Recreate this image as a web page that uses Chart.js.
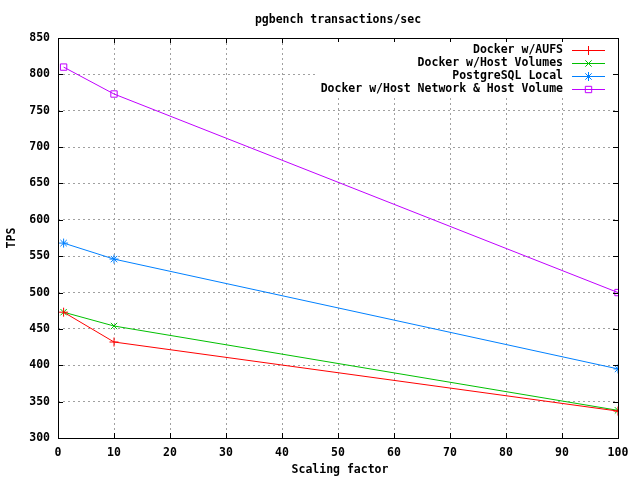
<!DOCTYPE html>
<html>
<head>
<meta charset="utf-8">
<script src="https://cdn.jsdelivr.net/npm/chart.js@4.4.1/dist/chart.umd.min.js"></script>
<style>
  body { margin: 0; background: #fff; }
  #wrap { width: 640px; height: 480px; }
</style>
</head>
<body>
<div id="wrap"><canvas id="myChart" width="640" height="480"></canvas></div>
<script>
// valores
const scalingFactors = [1, 10, 100];
const aufs = [473, 432, 337];
const hostVolumes = [473, 454, 338];
const pgLocal = [568, 546, 395];
const hostNetwork = [810, 773, 500];

const seriesNames = [
  'Docker w/AUFS',
  'Docker w/Host Volumes',
  'PostgreSQL Local',
  'Docker w/Host Network & Host Volume',
];
const seriesColors = ['#ff0000', '#00c000', '#0080ff', '#c000ff'];
const seriesMarkers = ['cross', 'crossRot', 'star', 'rect'];
const xTicks = [0, 10, 20, 30, 40, 50, 60, 70, 80, 90, 100];
const yTicks = [300, 350, 400, 450, 500, 550, 600, 650, 700, 750, 800, 850];

const FONT = 'bold 11.5px "DejaVu Sans Mono", monospace';

function toPoints(values) {
  return values.map((v, i) => ({x: scalingFactors[i], y: v}));
}

function makeSet(i, values) {
  const color = seriesColors[i];
  return {
    label: seriesNames[i],
    data: toPoints(values),
    borderColor: color,
    backgroundColor: 'rgba(0,0,0,0)',
    borderWidth: 1,
    pointStyle: seriesMarkers[i],
    pointRadius: 4.5,
    pointBorderWidth: 1,
    pointBorderColor: color,
    pointBackgroundColor: 'rgba(0,0,0,0)',
    tension: 0,
  };
}

// bordes, ticks, titulos y leyenda estilo gnuplot
const gnuplotFrame = {
  id: 'gnuplotFrame',
  afterDatasetsDraw(chart) {
    const c = chart.ctx;
    const a = chart.chartArea;
    const xs = chart.scales.x;
    const ys = chart.scales.y;
    c.save();
    c.strokeStyle = '#000';
    c.lineWidth = 1;
    c.beginPath();
    xTicks.forEach(t => {
      const px = Math.round(xs.getPixelForValue(t)) + 0.5;
      c.moveTo(px, a.bottom); c.lineTo(px, a.bottom - 5);
      c.moveTo(px, a.top); c.lineTo(px, a.top + 5);
    });
    yTicks.forEach(t => {
      const py = Math.round(ys.getPixelForValue(t)) + 0.5;
      c.moveTo(a.left, py); c.lineTo(a.left + 5, py);
      c.moveTo(a.right, py); c.lineTo(a.right - 5, py);
    });
    c.stroke();
    c.strokeRect(Math.round(a.left) + 0.5, Math.round(a.top) + 0.5,
      Math.round(a.right - a.left), Math.round(a.bottom - a.top));

    c.fillStyle = '#000';
    c.font = FONT;
    c.textAlign = 'center';
    c.textBaseline = 'middle';
    c.fillText('pgbench transactions/sec', 338, 20);
    c.fillText('Scaling factor', 340, 470);
    c.save();
    c.translate(12, 238);
    c.rotate(-Math.PI / 2);
    c.fillText('TPS', 0, 0);
    c.restore();

    // leyenda
    c.fillStyle = '#fff';
    c.fillRect(316, 42, 296, 56);
    seriesNames.forEach((name, i) => {
      const y = 50 + i * 12.9;
      const py = Math.round(y) + 0.5;
      const color = seriesColors[i];
      c.fillStyle = '#000';
      c.textAlign = 'right';
      c.fillText(name, 563, y);
      c.strokeStyle = color;
      c.lineWidth = 1;
      c.beginPath();
      c.moveTo(572, py);
      c.lineTo(605, py);
      c.stroke();
      c.fillStyle = 'rgba(0,0,0,0)';
      c.strokeStyle = color;
      Chart.helpers.drawPoint(c, {
        pointStyle: seriesMarkers[i],
        radius: 4.5,
        rotation: 0,
        borderWidth: 1,
      }, 588.5, py);
    });
    c.restore();
  },
};

const tickFont = {family: 'DejaVu Sans Mono', size: 11.5, weight: 'bold'};

const ctx = document.getElementById('myChart');
const myChart = new Chart(ctx, {
  type: 'line',
  data: {
    datasets: [
      makeSet(0, aufs),
      makeSet(1, hostVolumes),
      makeSet(2, pgLocal),
      makeSet(3, hostNetwork),
    ],
  },
  options: {
    responsive: false,
    animation: false,
    devicePixelRatio: 1,
    layout: {padding: {top: 38, right: 22, left: 0, bottom: 0}},
    plugins: {
      legend: {display: false},
      title: {display: false},
      tooltip: {enabled: false},
    },
    scales: {
      x: {
        type: 'linear',
        min: 0,
        max: 100,
        afterBuildTicks: s => { s.ticks = xTicks.map(v => ({value: v})); },
        afterFit: s => { s.height = 42; },
        grid: {color: '#a0a0a0', drawTicks: false},
        border: {display: false, dash: [2, 3]},
        ticks: {color: '#000', font: tickFont, padding: 8, maxRotation: 0},
      },
      y: {
        type: 'linear',
        min: 300,
        max: 850,
        afterBuildTicks: s => { s.ticks = yTicks.map(v => ({value: v})); },
        afterFit: s => { s.width = 58; },
        grid: {color: '#a0a0a0', drawTicks: false},
        border: {display: false, dash: [2, 3]},
        ticks: {color: '#000', font: tickFont, padding: 8},
      },
    },
  },
  plugins: [gnuplotFrame],
});
</script>
</body>
</html>
